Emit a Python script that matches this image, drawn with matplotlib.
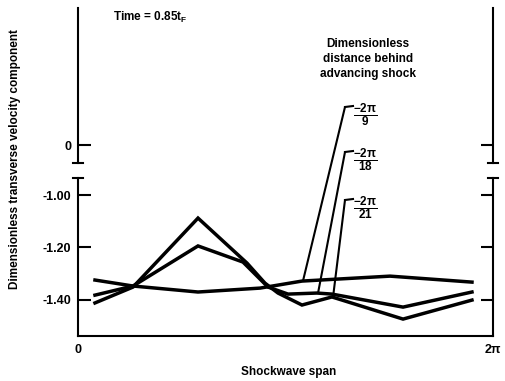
import numpy as np
import matplotlib
matplotlib.use("Agg")
import matplotlib.pyplot as plt
from matplotlib.lines import Line2D

plt.rcParams['font.family'] = ['Liberation Sans', 'DejaVu Sans']
plt.rcParams['font.weight'] = 'bold'
plt.rcParams['mathtext.fontset'] = 'custom'
plt.rcParams['mathtext.rm'] = 'Liberation Sans:bold'
plt.rcParams['mathtext.it'] = 'Liberation Sans:bold'
plt.rcParams['mathtext.bf'] = 'Liberation Sans:bold'

# data (x in radians along the span)
x_a = [0.257, 0.833, 1.817, 2.756, 3.391, 4.724, 5.965]
y_a = [-1.325, -1.348, -1.371, -1.356, -1.329, -1.310, -1.333]

x_b = [0.257, 0.833, 1.817, 2.498, 2.877, 3.180, 3.618, 3.845, 4.921, 5.965]
y_b = [-1.383, -1.348, -1.194, -1.256, -1.352, -1.379, -1.375, -1.379, -1.429, -1.371]

x_c = [0.257, 0.833, 1.817, 2.559, 2.831, 3.028, 3.391, 3.845, 4.921, 5.965]
y_c = [-1.413, -1.352, -1.087, -1.260, -1.337, -1.375, -1.421, -1.390, -1.475, -1.402]

series = [(x_a, y_a), (x_b, y_b), (x_c, y_c)]
labels = [r"$\dfrac{-2\pi}{9}$", r"$\dfrac{-2\pi}{18}$", r"$\dfrac{-2\pi}{21}$"]
leader_x = [3.406, 3.634, 3.861]          # where each leader touches its curve
label_pos = [(345, 274), (345, 229), (345, 181)]   # figure pixels, leader corner

W, H = 506, 381
fig = plt.figure(figsize=(W / 100, H / 100), dpi=100)
ax_top = fig.add_axes([78 / W, (H - 163) / H, 415 / W, 155 / H])
ax = fig.add_axes([78 / W, (H - 336) / H, 415 / W, 158 / H])

for a in (ax_top, ax):
    a.set_xlim(0, 2 * np.pi)
    a.spines['top'].set_visible(False)
    for s in ('left', 'right', 'bottom'):
        a.spines[s].set_linewidth(1.5)
    a.tick_params(axis='y', direction='in', left=True, right=True,
                  length=9, width=1.5, labelsize=9, pad=5)
    # break marks
    yb = 0 if a is ax_top else 1
    for xe in (0, 1):
        a.add_line(Line2D([xe - 0.013, xe + 0.013], [yb, yb], transform=a.transAxes,
                          color='black', lw=1.5, clip_on=False))

ax_top.spines['bottom'].set_visible(False)
ax_top.set_ylim(-0.069, 0.527)
ax_top.set_yticks([0])
ax_top.set_yticklabels(['0'])
ax_top.set_xticks([])

ax.set_ylim(-1.540, -0.933)
ax.set_yticks([-1.0, -1.2, -1.4])
ax.set_yticklabels(['-1.00', '-1.20', '-1.40'])
ax.set_xticks([0, 2 * np.pi])
ax.set_xticklabels(['0', '2π'])
ax.tick_params(axis='x', length=0, labelsize=9, pad=6)

for xs, ys in series:
    ax.plot(xs, ys, color='black', lw=2.5, solid_joinstyle='miter')

for (xs, ys), lab, tx, (px, py) in zip(series, labels, leader_x, label_pos):
    ty = np.interp(tx, xs, ys)
    ax.annotate('', xy=(tx, ty), xycoords='data', xytext=(px, py),
                textcoords='figure pixels',
                arrowprops=dict(arrowstyle='-', color='black', lw=1.5,
                                shrinkA=0, shrinkB=0))
    fig.add_artist(Line2D([px / W, (px + 8) / W], [py / H, (py + 1) / H],
                          color='black', lw=1.5))
    fig.text((px + 20) / W, (py - 8) / H, lab, fontsize=8.5, ha='center', va='center')

fig.text(15 / W, 1 - 159 / H, 'Dimensionless transverse velocity component',
         rotation=90, fontsize=8.5, ha='center', va='center')
fig.text(289 / W, 1 - 372 / H, 'Shockwave span', fontsize=8.5, ha='center', va='center')
fig.text(113 / W, 1 - 17 / H, 'Time = 0.85t$_F$', fontsize=8.5, ha='left', va='center')
fig.text(368 / W, 1 - 59 / H, 'Dimensionless\ndistance behind\nadvancing shock',
         fontsize=8.5, ha='center', va='center', linespacing=1.35)

fig.savefig('out.png', dpi=100)
